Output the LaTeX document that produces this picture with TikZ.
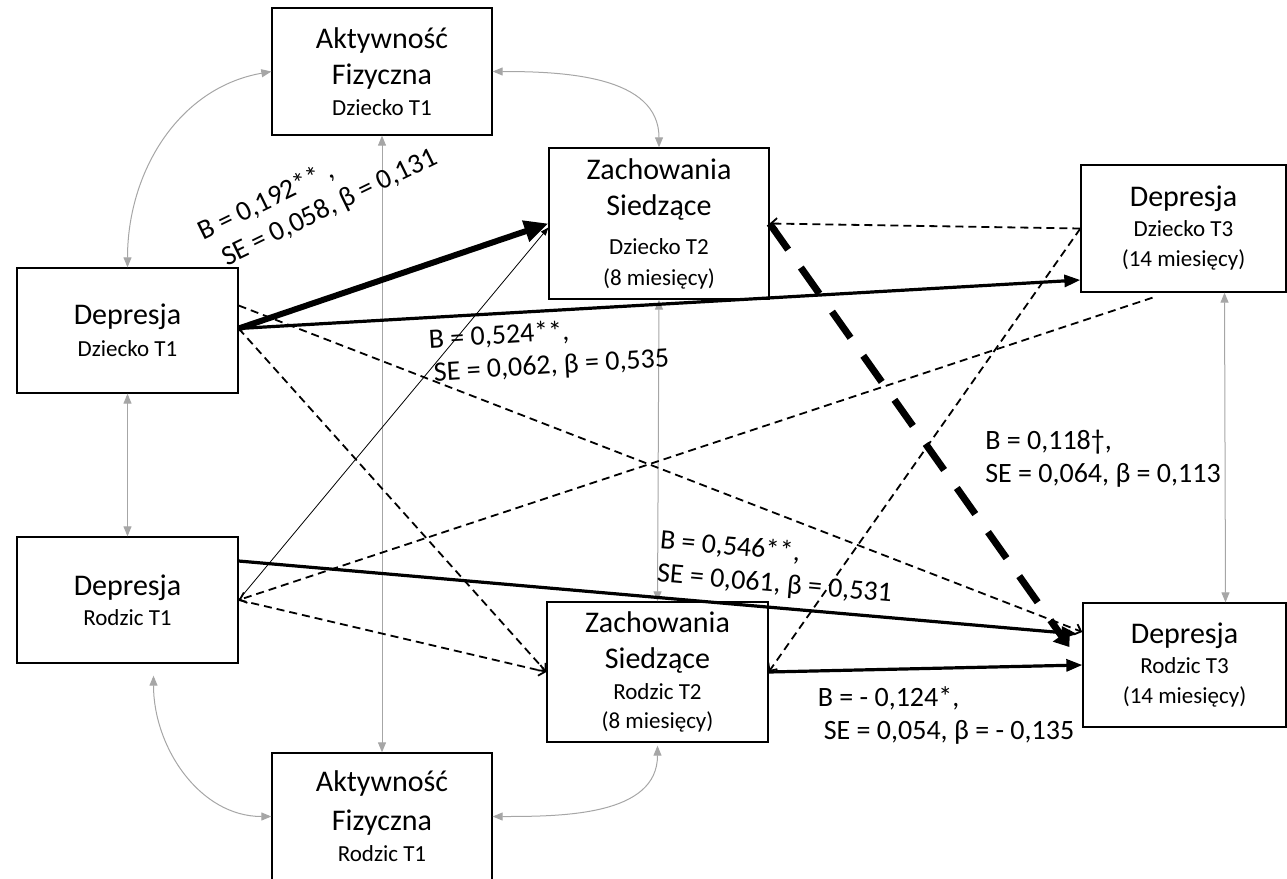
\documentclass[tikz,border=0pt]{standalone}
\usepackage{fontspec}
\setmainfont{Carlito}
\usetikzlibrary{arrows.meta}
\definecolor{corrgrey}{HTML}{A6A6A6}
\newcommand{\bigtxt}{\fontsize{30}{36}\selectfont}
\newcommand{\smalltxt}{\fontsize{23}{30}\selectfont}
\newcommand{\coeftxt}{\fontsize{28}{33}\selectfont}

\begin{document}
\begin{tikzpicture}[x=1pt,y=-1pt,
	varbox/.style={draw, line width=1.3pt, inner sep=0pt, align=center, font=\bigtxt},
	coef/.style={inner sep=0pt, align=left, font=\coeftxt},
	corr/.style={corrgrey, line width=1pt, >={Triangle[length=10pt,width=8pt]}, <->},
	bigfx/.style={line width=6pt, -{Triangle[length=24pt,width=21pt]}},
	fx/.style={line width=3.2pt, -{Triangle[length=16pt,width=12pt]}},
	thinfx/.style={line width=0.8pt, -{Triangle[length=8pt,width=6pt]}},
	nsfx/.style={line width=1.8pt, dash pattern=on 8pt off 5pt, -{Straight Barb[length=6pt,width=11pt]}},
	bignsfx/.style={line width=7pt, dash pattern=on 32pt off 22pt, -{Triangle[length=14pt,width=20pt]}}]
				\useasboundingbox (0,0) rectangle (1287,878);

				\node[varbox, minimum width=220pt, minimum height=127pt] (afd) at (382,71.5) {Aktywność\\Fizyczna\\[-5pt]{\smalltxt Dziecko T1}};
				\node[varbox, minimum width=220pt, minimum height=151pt] (zsd) at (659,223.5) {Zachowania\\Siedzące\\[3pt]{\smalltxt Dziecko T2}\\[-5pt]{\smalltxt (8 miesięcy)}};
				\node[varbox, minimum width=205pt, minimum height=127pt] (dd3) at (1183.5,228.5) {Depresja\\[-6pt]{\smalltxt Dziecko T3}\\[-6pt]{\smalltxt (14 miesięcy)}};
				\node[varbox, minimum width=221pt, minimum height=125pt] (dd1) at (127.5,330.5) {Depresja\\[-4pt]{\smalltxt Dziecko T1}};
				\node[varbox, minimum width=221pt, minimum height=126pt] (dr1) at (127.5,600) {Depresja\\[-6pt]{\smalltxt Rodzic T1}};
				\node[varbox, minimum width=221pt, minimum height=140pt] (zsr) at (657.5,672) {Zachowania\\Siedzące\\[-5pt]{\smalltxt Rodzic T2}\\[-7pt]{\smalltxt (8 miesięcy)}};
				\node[varbox, minimum width=203pt, minimum height=124pt] (dr3) at (1184.5,665) {Depresja\\[-6pt]{\smalltxt Rodzic T3}\\[-6pt]{\smalltxt (14 miesięcy)}};
				\node[varbox, minimum width=220pt, minimum height=127pt] (afr) at (382,816.5) {Aktywność\\[3pt]Fizyczna\\[-5pt]{\smalltxt Rodzic T1}};

				\draw [corr] (afd.west) to[out=190,in=90] (dd1.north);
				\draw [corr] (afd.east) to[out=0,in=90] (zsd.north);
				\draw [corr] (dd1.south) -- (dr1.north);
				\draw [corr] ([xshift=26pt,yshift=-12pt]dr1.south) to[out=-90,in=180] (afr.west);
				\draw [corr] (afr.east) to[out=0,in=-90] ([yshift=-3pt]zsr.south);
				\draw [corr] (afd.south) -- (afr.north);
				\draw [corr] (zsd.south) -- (zsr.north);
				\draw [corr] ([xshift=41pt]dd3.south) -- ([xshift=41pt]dr3.north);

				\draw [nsfx] ([yshift=25pt]dd1.east) -- ([yshift=33pt]dr3.west);
				\draw [nsfx] ([yshift=2pt]dd1.east) -- (zsr.west);
				\draw [nsfx] (dr1.east) -- (zsr.west);
				\draw [nsfx] ([xshift=-31pt,yshift=-5pt]dd3.south) -- (dr1.east);
				\draw [nsfx] (dd3.west) -- (zsr.east);
				\draw [nsfx] (dd3.west) -- (zsd.east);
				\draw [bignsfx] (zsd.east) -- ([xshift=-13pt,yshift=18pt]dr3.west);

				\draw [thinfx] (dr1.east) -- ([yshift=-4pt]zsd.west);
				\draw [bigfx] ([yshift=2pt]dd1.east) -- (zsd.west);
				\draw [fx] ([yshift=2pt]dd1.east) -- ([yshift=-51.5pt]dd3.west);
				\draw [fx] ([yshift=39pt]dr1.east) -- ([xshift=-5pt,yshift=31pt]dr3.west);
				\draw [fx] (zsr.east) -- (dr3.west);

				\node[coef, rotate=26] (lbA) at (318,195) {B = 0,192** ,\\\hspace*{10pt}SE = 0,058, β = 0,131};
				\node[coef, rotate=3.5] (lbB) at (549,350) {B = 0,524**,\\\hspace*{3pt}SE = 0,062, β = 0,535};
				\node[coef, rotate=-5] (lbC) at (776,568) {B = 0,546**,\\SE = 0,061, β = 0,531};
				\node[coef] (lbD) at (1103,459) {B = 0,118†,\\SE = 0,064, β = 0,113};
				\node[coef] (lbE) at (946,715) {B = - 0,124*,\\\hspace*{6pt}SE = 0,054, β = - 0,135};
			\end{tikzpicture}
\end{document}
